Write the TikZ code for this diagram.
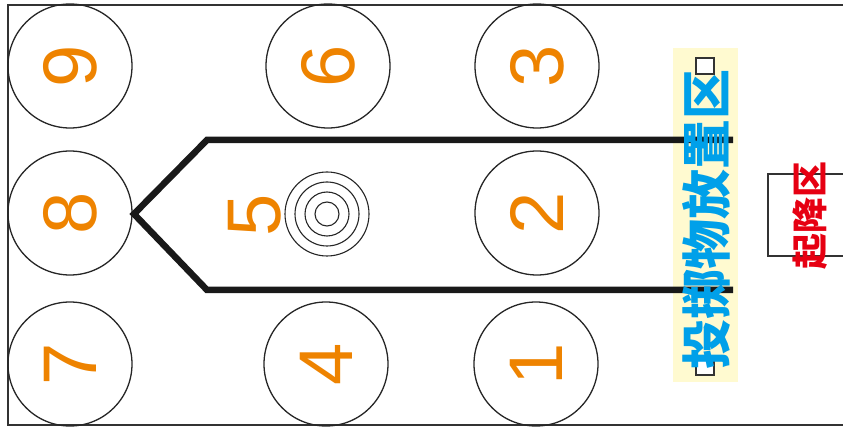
\documentclass[tikz,border=0pt]{standalone}
\usepackage{fontspec}
\setmainfont{Liberation Sans}
\newfontfamily\cjk{Noto Sans CJK SC}
\usetikzlibrary{positioning,calc}
\definecolor{numorange}{RGB}{238, 131, 0}
\definecolor{dropblue}{RGB}{0, 160, 233}
\definecolor{landred}{RGB}{230, 0, 18}
\definecolor{zonepastel}{RGB}{255, 250, 208}
\definecolor{frameborder}{RGB}{50, 50, 50}

\begin{document}
\begin{tikzpicture}[
    x=1pt, y=-1pt,
    spot/.style={circle, draw=black!85, line width=1.3pt, minimum size=124pt, inner sep=0pt,
        rotate=90, text=numorange, font=\fontsize{76}{76}\selectfont},
    ring/.style={draw=black!85, line width=1.1pt},
    track/.style={draw=black!90, line width=6.5pt},
    marker/.style={draw=black!80, line width=1.1pt, fill=white, minimum width=18pt, minimum height=16pt, inner sep=0pt},
    zonelbl/.style={rotate=90, inner sep=0pt, font=\cjk\bfseries}
]
\useasboundingbox (0,0) rectangle (843,427);

% Field frame (open on the right)
\draw[frameborder, line width=2.2pt] (843,5) -- (8,5) -- (8,425) -- (843,425);

% Numbered spots
\node[spot] (c9) at (70,66) {9};
\node[spot] (c6) at (328,66) {6};
\node[spot] (c3) at (537,66) {3};
\node[spot] (c8) at (70,213) {8};
\node[spot] (c2) at (537,213) {2};
\node[spot] (c7) at (70,364) {7};
\node[spot] (c4) at (326,364) {4};
\node[spot] (c1) at (536,364) {1};

% Centre target with label 5
\coordinate (target) at (327,214);
\foreach \r in {42,32,22,12}
    \draw[ring] (target) circle (\r);
\node[rotate=90, text=numorange, font=\fontsize{76}{76}\selectfont, inner sep=0pt] (n5) at (255,215) {5};

% Drop zone strip
\fill[zonepastel] (673,48) rectangle (738,382);
\node[marker] (mtop) at (705,66) {};
\node[marker] (mbot) at (705,367) {};

% Track from the drop zone round spot 8
\coordinate (topend) at (733,140);
\coordinate (topbend) at (207,140);
\coordinate (tip) at (134,214);
\coordinate (botbend) at (207,290);
\coordinate (botend) at (733,290);
\draw[track] (topend) -- (topbend) -- (tip) -- (botbend) -- (botend);

\node[zonelbl, text=dropblue, font=\cjk\bfseries\fontsize{50}{50}\selectfont] (drop) at (706,220) {投掷物放置区};

% Landing zone
\draw[black!80, line width=1.1pt] (843,174) -| (768,256) -- (843,256);
\node[zonelbl, text=landred, font=\cjk\bfseries\fontsize{36}{36}\selectfont] (land) at (810,216) {起降区};

\end{tikzpicture}
\end{document}
